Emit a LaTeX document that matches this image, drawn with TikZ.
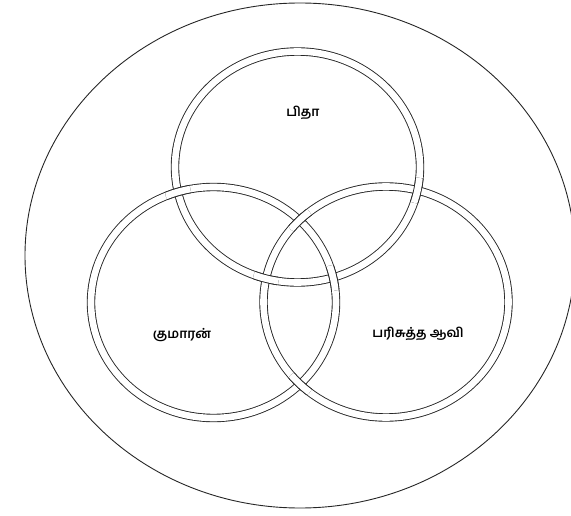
\documentclass[tikz,border=0pt]{standalone}
\usepackage{fontspec}
\newfontfamily\tamilfont[Script=Tamil]{Hind Madurai}
\begin{document}
\begin{tikzpicture}[x=1pt,y=-1pt,font=\tamilfont\bfseries\fontsize{13}{15}\selectfont,
 ring/.style={draw=black!85,double=white,double distance=6.6pt,line width=0.9pt},
 rad/.style={x radius=122.5pt,y radius=115.5pt}]
\useasboundingbox (0,0) rectangle (571,516);
\clip (0,0) rectangle (571,516);
\coordinate (ptop) at (297.5,167);
\coordinate (pleft) at (213.5,302.5);
\coordinate (pright) at (386,302);
% outer boundary
\draw[black!85,line width=0.9pt] (300,255.5) ellipse [x radius=275pt,y radius=252.5pt];
% three rings
\foreach \c in {ptop,pleft,pright}
  \draw[ring] (\c) ellipse [rad];
% over/under at the six crossings
\foreach \c/\p in {pleft/{178,192},pleft/{333,278},ptop/{417,190.4},ptop/{266,278.7},pright/{299.75,220.2},pright/{299.75,384.3}}{
  \begin{scope}
    \clip (\p) circle (13pt);
    \draw[ring] (\c) ellipse [rad];
  \end{scope}
}
\node (father) at (303,113) {பிதா};
\node (son) at (182,335) {குமாரன்};
\node (spirit) at (418,334) {பரிசுத்த ஆவி};
\end{tikzpicture}
\end{document}
